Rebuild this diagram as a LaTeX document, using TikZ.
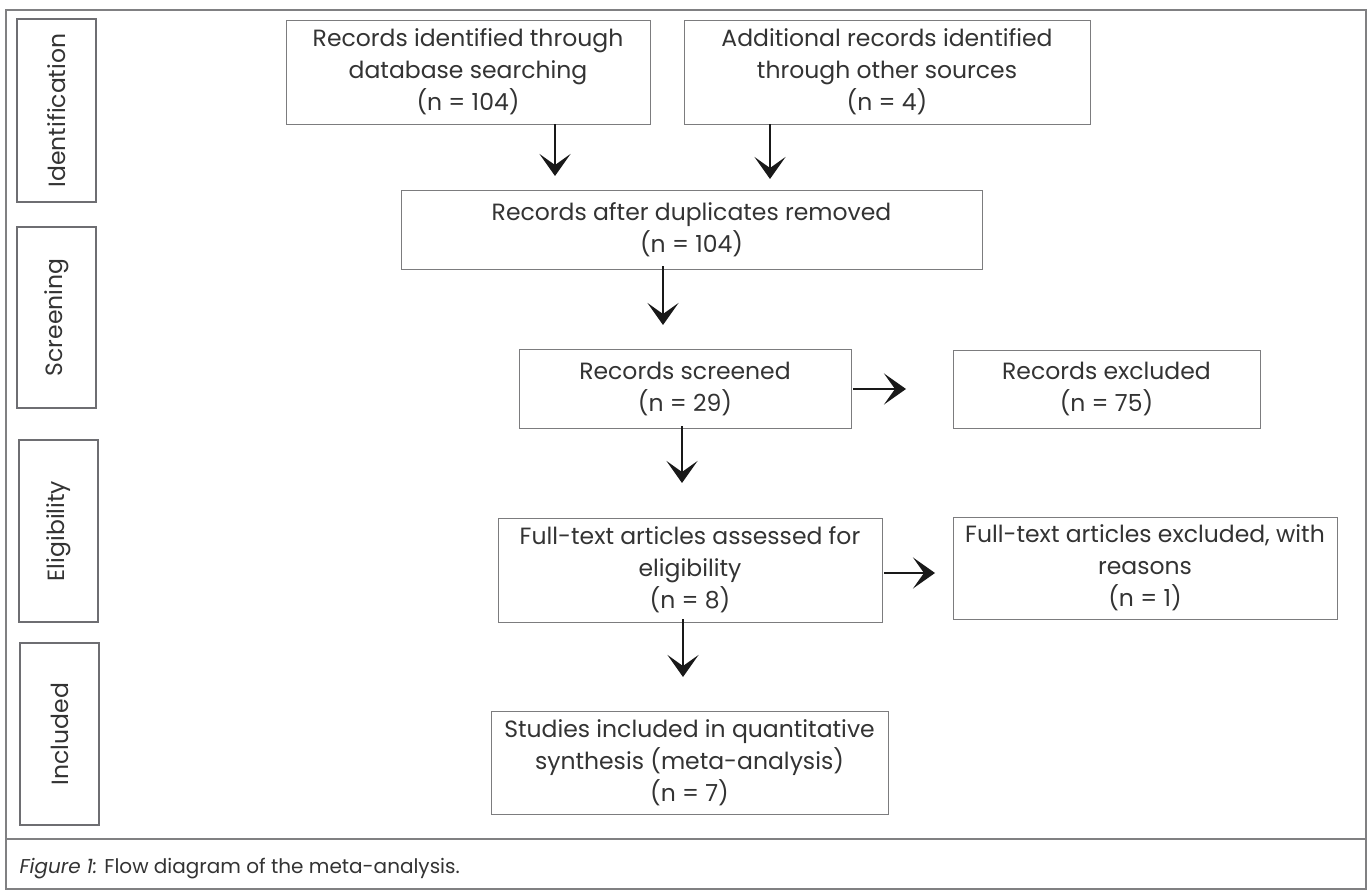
\documentclass[tikz,border=0pt]{standalone}
\usepackage{fontspec}
\setmainfont{Poppins}
\usetikzlibrary{arrows.meta}
\definecolor{framegray}{HTML}{808082}
\definecolor{sidegray}{HTML}{6E6E72}
\definecolor{boxgray}{HTML}{7C7C7E}
\definecolor{txtgray}{HTML}{333333}
\begin{document}
\begin{tikzpicture}[x=1pt,y=-1pt,font=\fontsize{23.5}{32}\selectfont]
\useasboundingbox (0,0) rectangle (1368,890);
% PRISMA-style flow: phase boxes on the left, records in the middle,
% exclusions on the right. Coordinates are in pt, y grows downwards.
\tikzset{
  phase/.style={draw=sidegray,line width=1.8pt,rotate=90,minimum height=79pt,inner sep=0pt,text=txtgray},
  record/.style={draw=boxgray,line width=0.9pt,align=center,inner sep=0pt,text=txtgray},
  flow/.style={-{Stealth[length=22pt,width=31pt,inset=11pt]},line width=2.5pt,black!90}
}

% Frame and caption rule.
\draw[framegray,line width=1.4pt] (6,10) rectangle (1366,889);
\draw[framegray,line width=1.4pt] (6,839) -- (1366,839);
\node[anchor=base west,text=txtgray,font=\fontsize{20}{24}\selectfont] (cap) at (16,873) {\textit{Figure 1:} Flow diagram of the meta-analysis.};

% Phases.
\node[phase,minimum width=183pt] (ident) at (56.5,110.5) {Identification};
\node[phase,minimum width=181pt] (screen) at (56.5,317.5) {Screening};
\node[phase,minimum width=182pt] (elig) at (58.5,531) {Eligibility};
\node[phase,minimum width=182pt] (incl) at (59.5,734) {Included};

% Records.
\node[record,minimum width=364pt,minimum height=104pt] (recdb) at (468,72) {Records identified through\\database searching\\(n = 104)};
\node[record,minimum width=406pt,minimum height=104pt] (recother) at (887,72) {Additional records identified\\through other sources\\(n = 4)};
\node[record,minimum width=581pt,minimum height=79pt] (recdup) at (691.5,229.5) {Records after duplicates removed\\(n = 104)};
\node[record,minimum width=332pt,minimum height=79pt] (recscr) at (685,388.5) {Records screened\\(n = 29)};
\node[record,minimum width=307pt,minimum height=78pt] (recexc) at (1106.5,389) {Records excluded\\(n = 75)};
\node[record,minimum width=384pt,minimum height=104pt] (fulltext) at (690,570) {Full-text articles assessed for\\eligibility\\(n = 8)};
\node[record,minimum width=384pt,minimum height=102pt] (fullexc) at (1145,568) {Full-text articles excluded, with\\reasons\\(n = 1)};
\node[record,minimum width=397pt,minimum height=103pt] (studies) at (689.5,762.5) {Studies included in quantitative\\synthesis (meta-analysis)\\(n = 7)};

% Arrow tips stop short of the boxes.
\coordinate (tdb) at (555,176);
\coordinate (tother) at (770,179);
\coordinate (tdup) at (663,325);
\coordinate (tscr) at (682,483);
\coordinate (texc) at (906,389);
\coordinate (tfull) at (683,677);
\coordinate (tfexc) at (935,573);
\draw[flow] (recdb.south -| tdb) -- (tdb);
\draw[flow] (recother.south -| tother) -- (tother);
\draw[flow] ([yshift=3pt]recdup.south -| tdup) -- (tdup);
\draw[flow] ([xshift=2pt]recscr.east |- texc) -- (texc);
\draw[flow] ([yshift=2pt]recscr.south -| tscr) -- (tscr);
\draw[flow] ([xshift=2pt]fulltext.east |- tfexc) -- (tfexc);
\draw[flow] ([yshift=3pt]fulltext.south -| tfull) -- (tfull);
\end{tikzpicture}
\end{document}
